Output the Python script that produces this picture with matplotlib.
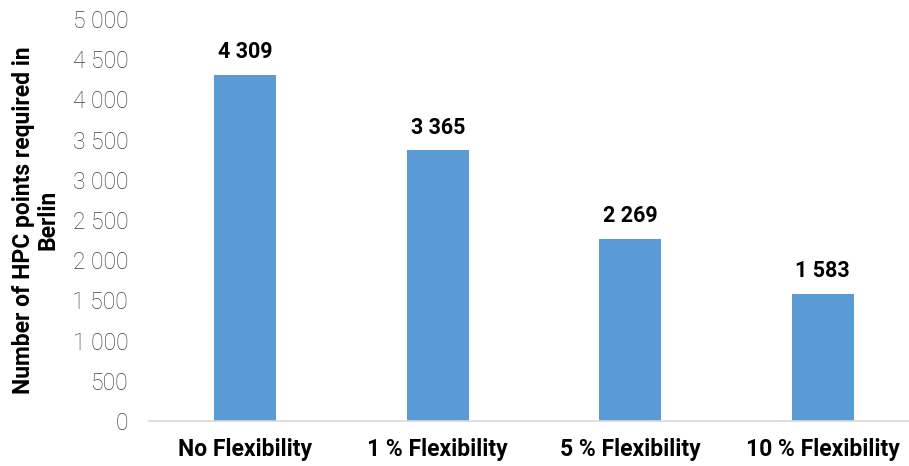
import matplotlib.pyplot as plt
from matplotlib.ticker import FuncFormatter

categories = ["No Flexibility", "1 % Flexibility", "5 % Flexibility", "10 % Flexibility"]
hpc_points = [4309, 3365, 2269, 1583]
y_ticks = [0, 500, 1000, 1500, 2000, 2500, 3000, 3500, 4000, 4500, 5000]


def spaced(v, pos=None):
    return f"{int(v):,}".replace(",", " ")


plt.rcParams["font.family"] = ["Roboto", "DejaVu Sans"]

fig = plt.figure(figsize=(9.09, 4.66), dpi=100)
# axes run a little past the right edge, as in the source layout
ax = fig.add_axes([149 / 909, 45 / 466, 770 / 909, 402 / 466])

x = range(len(categories))
ax.bar(x, hpc_points, width=0.32, color="#5b9bd5", zorder=2)

for xi, v in zip(x, hpc_points):
    ax.text(xi, v + 140, spaced(v), ha="center", va="bottom",
            fontsize=15.5, fontweight="bold", color="#000000")

ax.set_xlim(-0.5, 3.5)
ax.set_ylim(0, 5000)
ax.set_yticks(y_ticks)
ax.yaxis.set_major_formatter(FuncFormatter(spaced))
ax.set_xticks(list(x))
ax.set_xticklabels(categories, fontsize=16.5, fontweight="bold")

for lbl in ax.get_yticklabels():
    lbl.set_fontsize(16.5)
    lbl.set_fontweight("light")
    lbl.set_color("#404040")

ax.tick_params(axis="both", length=0)
ax.tick_params(axis="y", pad=15)
ax.tick_params(axis="x", pad=12)

for side in ["top", "right", "left"]:
    ax.spines[side].set_visible(False)
ax.spines["bottom"].set_color("#d9d9d9")
ax.spines["bottom"].set_linewidth(1.2)

ax.set_ylabel("Number of HPC points required in\nBerlin", fontsize=16.5,
              fontweight="bold", linespacing=1.1, labelpad=9)

fig.savefig("out.png", dpi=100)
